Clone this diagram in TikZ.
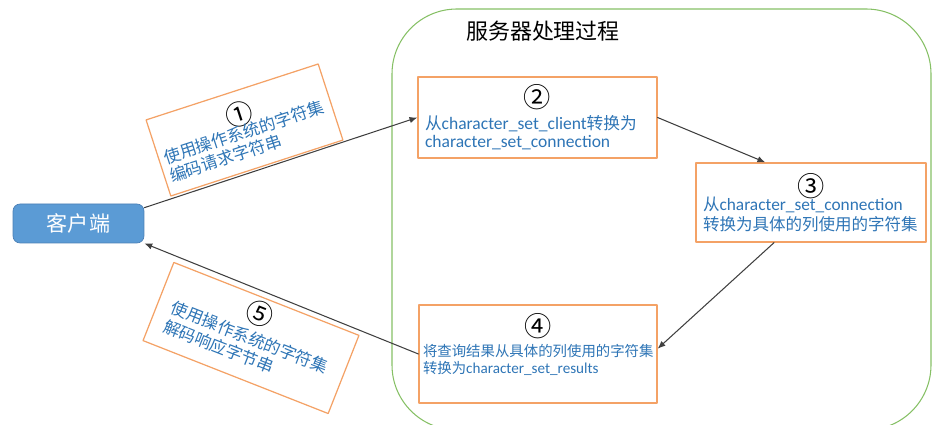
\documentclass[tikz,border=0pt]{standalone}
\usepackage{fontspec}
\setmainfont{Noto Sans CJK SC}
\newfontfamily\latinfont{Carlito}[Scale=1.05]
\usepackage{tikz}
\usetikzlibrary{arrows.meta,calc,positioning}
\definecolor{stepblue}{HTML}{2E75B6}
\definecolor{steporange}{HTML}{F4A266}
\definecolor{clientfill}{HTML}{5B9BD5}
\definecolor{clientline}{HTML}{4A7FB5}
\definecolor{serverline}{HTML}{86C065}
\definecolor{flowgray}{HTML}{404040}
\newcommand{\circnum}[1]{\hfill{\fontsize{15.5pt}{15.5pt}\selectfont\color{black}#1}\hfill\null}
\newcommand{\csid}[1]{{\latinfont #1}}
\tikzset{
  client box/.style={draw=clientline,fill=clientfill,rounded corners=4pt,text=white,
    font=\fontsize{12pt}{14pt}\selectfont,minimum width=2.62cm,minimum height=0.78cm,inner sep=0pt},
  step box/.style={draw=steporange,line width=.7pt,fill=white,text=stepblue,align=left,inner ysep=2pt},
  flow/.style={draw=flowgray,line width=.6pt,-{Latex[length=4.5pt,width=3.6pt]}},
  server frame/.style={draw=serverline,line width=.6pt,rounded corners=1.3cm}
}

\begin{document}
\begin{tikzpicture}[x=0.02cm,y=-0.02cm,line cap=round,line join=round]
  \useasboundingbox (0,0) rectangle (951,425);

  % server side
  \draw[server frame] (392,9) rectangle (931,430);
  \node[font=\fontsize{12.5pt}{14pt}\selectfont] (title) at (543,31) {服务器处理过程};

  \node[client box] (client) at (78.5,223.5) {客户端};

  \node[step box,font=\fontsize{9.5pt}{10.5pt}\selectfont,text width=4.5cm,inner xsep=.14cm,
        minimum height=1.62cm] (b2) at (537.5,117.5)
    {\circnum{②}\\[1.9pt]从\csid{character\_set\_client}转换为\\\csid{character\_set\_connection}};
  \node[step box,font=\fontsize{9.4pt}{11.3pt}\selectfont,text width=4.32cm,inner xsep=.14cm,
        minimum height=1.58cm] (b3) at (811,202.5)
    {\circnum{③}\\[-2.9pt]从\csid{character\_set\_connection}\\转换为具体的列使用的字符集};
  \node[step box,font=\fontsize{8.2pt}{9.6pt}\selectfont,text width=4.6cm,inner xsep=.08cm,
        minimum height=1.96cm] (b4) at (538,354)
    {\circnum{④}\\[2.3pt]将查询结果从具体的列使用的字符集\\转换为\csid{character\_set\_results}\rule[-12pt]{0pt}{12pt}};

  % client side notes
  \node[step box,font=\fontsize{9.5pt}{10.8pt}\selectfont,text width=3.4cm,inner xsep=.11cm,
        minimum height=1.6cm,rotate=18] (n1) at (244.5,130)
    {\circnum{①}\\[-2.9pt]使用操作系统的字符集\\编码请求字符串};
  \node[step box,font=\fontsize{9.5pt}{11.3pt}\selectfont,text width=3.4cm,inner xsep=.29cm,
        minimum height=1.56cm,rotate=-21.5] (n5) at (251,338)
    {\circnum{⑤}\\[1.1pt]使用操作系统的字符集\\解码响应字节串\rule[-7pt]{0pt}{7pt}};

  \draw[flow] ([yshift=9pt]client.east) -- (b2.west);
  \draw[flow] (b2.east) -- ([xshift=-26pt]b3.north);
  \draw[flow] ([xshift=-21pt]b3.south) -- ([yshift=3pt]b4.east);
  \draw[flow] (b4.west) -- (client.south east);
\end{tikzpicture}
\end{document}
